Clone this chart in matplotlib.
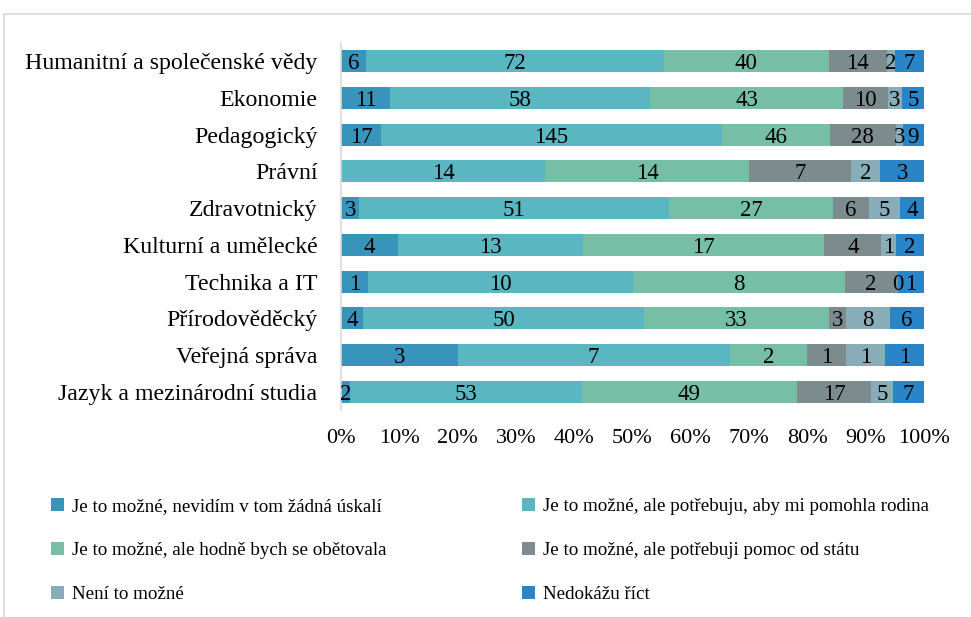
import numpy as np
import matplotlib
matplotlib.use("Agg")
import matplotlib.pyplot as plt
from matplotlib.patches import Rectangle, Patch

plt.rcParams['font.family'] = ['Liberation Serif', 'DejaVu Serif']

categories = [
    "Humanitní a společenské vědy",
    "Ekonomie",
    "Pedagogický",
    "Právní",
    "Zdravotnický",
    "Kulturní a umělecké",
    "Technika a IT",
    "Přírodověděcký",
    "Veřejná správa",
    "Jazyk a mezinárodní studia",
]

series_names = [
    "Je to možné, nevidím v tom žádná úskalí",
    "Je to možné, ale potřebuju, aby mi pomohla rodina",
    "Je to možné, ale hodně bych se obětovala",
    "Je to možné, ale potřebuji pomoc od státu",
    "Není to možné",
    "Nedokážu říct",
]

s1 = [6, 11, 17, None, 3, 4, 1, 4, 3, 2]
s2 = [72, 58, 145, 14, 51, 13, 10, 50, 7, 53]
s3 = [40, 43, 46, 14, 27, 17, 8, 33, 2, 49]
s4 = [14, 10, 28, 7, 6, 4, 2, 3, 1, 17]
s5 = [2, 3, 3, 2, 5, 1, 0, 8, 1, 5]
s6 = [7, 5, 9, 3, 4, 2, 1, 6, 1, 7]

colors = ["#3894BA", "#5AB6C0", "#76BEA6", "#7C8B8D", "#88ADB8", "#2A84C8"]

xticks = [0, 10, 20, 30, 40, 50, 60, 70, 80, 90, 100]
xticklabels = [f"{t}%" for t in xticks]

series = [s1, s2, s3, s4, s5, s6]
raw = np.array([[np.nan if v is None else v for v in s] for s in series], dtype=float)
vals = np.nan_to_num(raw)
totals = vals.sum(axis=0)
pct = vals / totals * 100

W, H = 971, 617
fig = plt.figure(figsize=(W / 100, H / 100), dpi=100)
ax = fig.add_axes([341 / W, 1 - 410 / H, (924 - 341) / W, (410 - 43) / H])

y = np.arange(len(categories))
left = np.zeros(len(categories))
VFS = 16.5
for i in range(len(series)):
    ax.barh(y, pct[i], left=left, height=0.6, color=colors[i], edgecolor='none')
    for j in range(len(categories)):
        if np.isnan(raw[i, j]):
            continue
        ax.text(left[j] + pct[i, j] / 2, y[j], f"{int(raw[i, j])}", ha='center',
                va='center_baseline', fontsize=VFS, color='black')
    left += pct[i]

ax.set_xlim(0, 100)
ax.set_ylim(len(categories) - 0.5, -0.5)
ax.set_yticks(y)
ax.set_yticklabels(categories, fontsize=17.2)
ax.set_xticks(xticks)
ax.set_xticklabels(xticklabels, fontsize=16)
ax.tick_params(axis='both', length=0)
ax.tick_params(axis='x', pad=14)
ax.tick_params(axis='y', pad=17)
for s in ['top', 'right', 'bottom']:
    ax.spines[s].set_visible(False)
ax.spines['left'].set_color('#D9D9D9')
ax.spines['left'].set_linewidth(1.2)

# outer chart frame
fig.patches.append(Rectangle((4 / W, -0.05), 1.2, (617 - 14) / H + 0.05, transform=fig.transFigure,
                             fill=False, edgecolor='#D9D9D9', linewidth=1.2))

handles = [Patch(facecolor=c, edgecolor='none') for c in colors]
legkw = dict(frameon=False, fontsize=13.7, handlelength=0.68, handleheight=0.68,
             handletextpad=0.4, labelspacing=1.4, borderaxespad=0, borderpad=0)
fig.legend([handles[0], handles[2], handles[4]], [series_names[0], series_names[2], series_names[4]],
           loc='upper left', bbox_to_anchor=(51 / W, 1 - 498 / H), **legkw)
fig.legend([handles[1], handles[3], handles[5]], [series_names[1], series_names[3], series_names[5]],
           loc='upper left', bbox_to_anchor=(522 / W, 1 - 498 / H), **legkw)

fig.savefig("out.png", dpi=100)
